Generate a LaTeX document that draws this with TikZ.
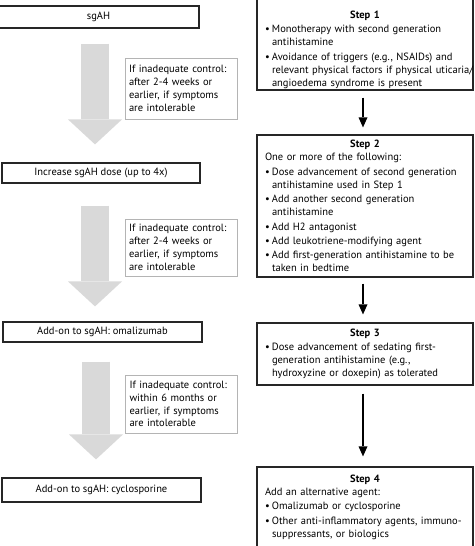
\documentclass[tikz,border=0pt]{standalone}
\usepackage{fontspec}
\setmainfont{PT Sans}
\usetikzlibrary{arrows.meta,calc}
\definecolor{arrowgray}{HTML}{D9D9D9}
\definecolor{framegray}{HTML}{B4B4B4}
\definecolor{boxline}{HTML}{262626}
\newcommand{\bi}{\makebox[7pt][l]{\textbullet}}
\newcommand{\bc}{\hspace*{7pt}}
\newcommand{\steptitle}[1]{\makebox[\linewidth][c]{\bfseries #1}}
\begin{document}
\begin{tikzpicture}[x=1pt,y=-1pt,
  font=\fontsize{10.5}{13}\selectfont,
  lbox/.style={draw=boxline, line width=1.2pt, inner sep=0pt, align=center},
  cbox/.style={draw=framegray, line width=0.6pt, text width=104pt, inner xsep=4pt, inner ysep=0pt, align=left, font=\fontsize{10.5}{12.8}\selectfont},
  sbox/.style={draw=boxline, line width=1.2pt, text width=200pt, inner xsep=8pt, inner ysep=0pt, align=left},
  garrow/.style={draw=arrowgray, line width=28pt, -{Triangle[width=54pt,length=25pt,line width=0pt]}},
  barrow/.style={draw=black, line width=2.2pt, -{Triangle[width=9pt,length=10pt,line width=0pt]}}]
\fill[white] (0,0) rectangle (474,546);
\useasboundingbox (0,0) rectangle (474,546);

% left column
\node[lbox, minimum width=201pt, minimum height=22pt] (a1) at (98.5,17) {sgAH};
\node[lbox, minimum width=198pt, minimum height=20pt] (a2) at (101,173) {Increase sgAH dose (up to 4x)};
\node[lbox, minimum width=199pt, minimum height=20pt] (a3) at (102.5,332) {Add-on to sgAH: omalizumab};
\node[lbox, minimum width=199pt, minimum height=24pt] (a4) at (101.5,490) {Add-on to sgAH: cyclosporine};

\coordinate (gx) at (95,0);
\coordinate (gy) at (96,0);
\draw[garrow, shorten <=15pt, shorten >=18pt] (gx |- a1.south) -- (gx |- a2.north);
\draw[garrow, shorten <=22pt, shorten >=15pt] (gx |- a2.south) -- (gx |- a3.north);
\draw[garrow, shorten <=19pt, shorten >=18pt] (gy |- a3.south) -- (gy |- a4.north);

\node[cbox, minimum height=61pt] (c1) at (181,88.5) {If inadequate control:\\after 2-4 weeks or\\earlier, if symptoms\\are intolerable};
\node[cbox, minimum height=57pt] (c2) at (181,247.5) {If inadequate control:\\after 2-4 weeks or\\earlier, if symptoms\\are intolerable};
\node[cbox, minimum height=58pt] (c3) at (181.5,404) {If inadequate control:\\within 6 months or\\earlier, if symptoms\\are intolerable};

% right column
\node[sbox, minimum height=93pt] (s1) at (365,43.5) {\steptitle{\rule{0pt}{20pt}Step 1}\\[1pt]
\bi Monotherapy with second generation\\\bc antihistamine\\[1.5pt]
\bi Avoidance of triggers (e.g., NSAIDs) and\\\bc \mbox{relevant physical factors if physical uticaria/}\\\bc angioedema syndrome is present};

\node[sbox, minimum height=142pt] (s2) at (365,206) {\steptitle{Step 2}\\
One or more of the following:\\[1.5pt]
\bi Dose advancement of second generation\\\bc antihistamine used in Step 1\\[1.5pt]
\bi Add another second generation\\\bc antihistamine\\[1.5pt]
\bi Add H2 antagonist\\[1pt]
\bi Add leukotriene-modifying agent\\[1pt]
\bi Add first-generation antihistamine to be\\\bc taken in bedtime};

\node[sbox, minimum height=62pt] (s3) at (365,354) {\steptitle{Step 3}\\[1pt]
\bi Dose advancement of sedating first-\\\bc generation antihistamine (e.g.,\\\bc hydroxyzine or doxepin) as tolerated};

\node[sbox, minimum height=81pt] (s4) at (365,507.5) {\steptitle{Step 4}\\
Add an alternative agent:\\[1pt]
\bi Omalizumab or cyclosporine\\[1.5pt]
\bi \mbox{Other anti-inflammatory agents, immuno-}\\\bc suppressants, or biologics\par\vspace*{4pt}};

\draw[barrow, shorten <=7pt, shorten >=7pt] ([xshift=-2pt]s1.south) -- ([xshift=-2pt]s2.north);
\draw[barrow, shorten <=6pt, shorten >=8pt] ([xshift=-2pt]s2.south) -- ([xshift=-2pt]s3.north);
\draw[barrow, shorten <=8pt, shorten >=10pt] ([xshift=-2pt]s3.south) -- ([xshift=-2pt]s4.north);
\end{tikzpicture}
\end{document}
